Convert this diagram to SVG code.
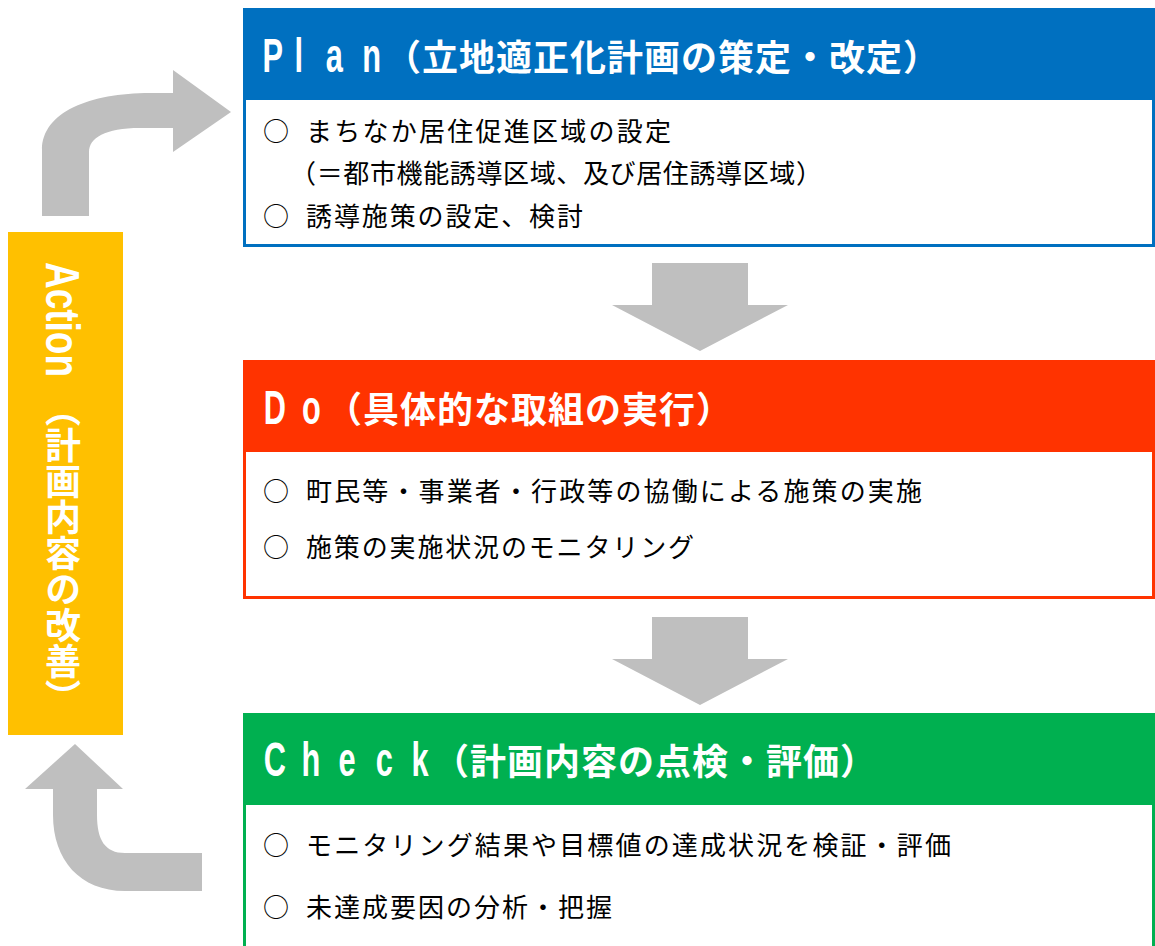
<svg xmlns="http://www.w3.org/2000/svg" width="1155" height="946" viewBox="0 0 1155 946">
<style>
.lat{font-family:"Liberation Sans",Arial,sans-serif;font-weight:bold;font-size:48px;fill:#fff}
.ttl{font-family:"Noto Sans CJK JP","Noto Sans",sans-serif;font-weight:bold;font-size:36px;fill:#fff;letter-spacing:1px}
.body{font-family:"Noto Sans CJK JP","Noto Sans",sans-serif;font-size:26px;fill:#000}
.arrow{fill:#BFBFBF}
</style>
<rect width="1155" height="946" fill="#fff"/>
<g id="connectors">
<path class="arrow" d="M42,216 L42,150 C42,112 90,93 150,93 L173,93 L173,70 L231,112 L173,152 L173,128 L140,128 C105,128 89,138 89,152 L89,216 Z"/>
<path class="arrow" d="M652,263 L748,263 L748,305 L788,305 L700,351 L612,305 L652,305 Z"/>
<path class="arrow" d="M652,617 L748,617 L748,659 L788,659 L700,705 L612,659 L652,659 Z"/>
<path class="arrow" d="M75,744 L123,789 L97,789 L97,815 C97,840 105,853 125,853 L202,853 L202,891 L125,891 C80,891 53,860 53,815 L53,789 L25,789 Z"/>
</g>
<g id="plan">
<rect x="244.5" y="9.5" width="909" height="236" fill="#fff" stroke="#0070C0" stroke-width="3"/>
<rect x="243" y="8" width="912" height="92" fill="#0070C0"/>
<text class="lat" transform="translate(0,72) scale(0.64,1)"><tspan x="410">P</tspan><tspan x="460">l</tspan><tspan x="509">a</tspan><tspan x="566">n</tspan></text>
<text class="ttl" x="385" y="71">（立地適正化計画の策定・改定）</text>
<text class="body" x="263" y="141">○</text>
<text class="body" x="306" y="141" textLength="365" lengthAdjust="spacing">まちなか居住促進区域の設定</text>
<text class="body" x="290" y="183" textLength="532" lengthAdjust="spacing">（＝都市機能誘導区域、及び居住誘導区域）</text>
<text class="body" x="263" y="226">○</text>
<text class="body" x="306" y="226" textLength="277" lengthAdjust="spacing">誘導施策の設定、検討</text>
</g>
<g id="do">
<rect x="244.5" y="361.5" width="909" height="236" fill="#fff" stroke="#FF3300" stroke-width="3"/>
<rect x="243" y="360" width="912" height="92" fill="#FF3300"/>
<text class="lat" transform="translate(0,424) scale(0.64,1)"><tspan x="412">D</tspan><tspan x="472">o</tspan></text>
<text class="ttl" x="326" y="423">（具体的な取組の実行）</text>
<text class="body" x="263" y="501">○</text>
<text class="body" x="306" y="501" textLength="616" lengthAdjust="spacing">町民等・事業者・行政等の協働による施策の実施</text>
<text class="body" x="263" y="557">○</text>
<text class="body" x="306" y="557" textLength="388" lengthAdjust="spacing">施策の実施状況のモニタリング</text>
</g>
<g id="check">
<rect x="244.5" y="714.5" width="909" height="260" fill="#fff" stroke="#00B050" stroke-width="3"/>
<rect x="243" y="713" width="912" height="92" fill="#00B050"/>
<text class="lat" transform="translate(0,776) scale(0.64,1)"><tspan x="412">C</tspan><tspan x="471">h</tspan><tspan x="529">e</tspan><tspan x="587">c</tspan><tspan x="643">k</tspan></text>
<text class="ttl" x="433" y="775">（計画内容の点検・評価）</text>
<text class="body" x="263" y="855">○</text>
<text class="body" x="306" y="855" textLength="645" lengthAdjust="spacing">モニタリング結果や目標値の達成状況を検証・評価</text>
<text class="body" x="263" y="917">○</text>
<text class="body" x="306" y="917" textLength="306" lengthAdjust="spacing">未達成要因の分析・把握</text>
</g>
<g id="action">
<rect x="8" y="232" width="115" height="503" fill="#FFC000"/>
<text class="lat" transform="translate(46,262) rotate(90)" textLength="115" lengthAdjust="spacingAndGlyphs">Action</text>
<text class="ttl" x="63" y="391" style="writing-mode:vertical-rl;letter-spacing:0">（計画内容の改善）</text>
</g>
</svg>
